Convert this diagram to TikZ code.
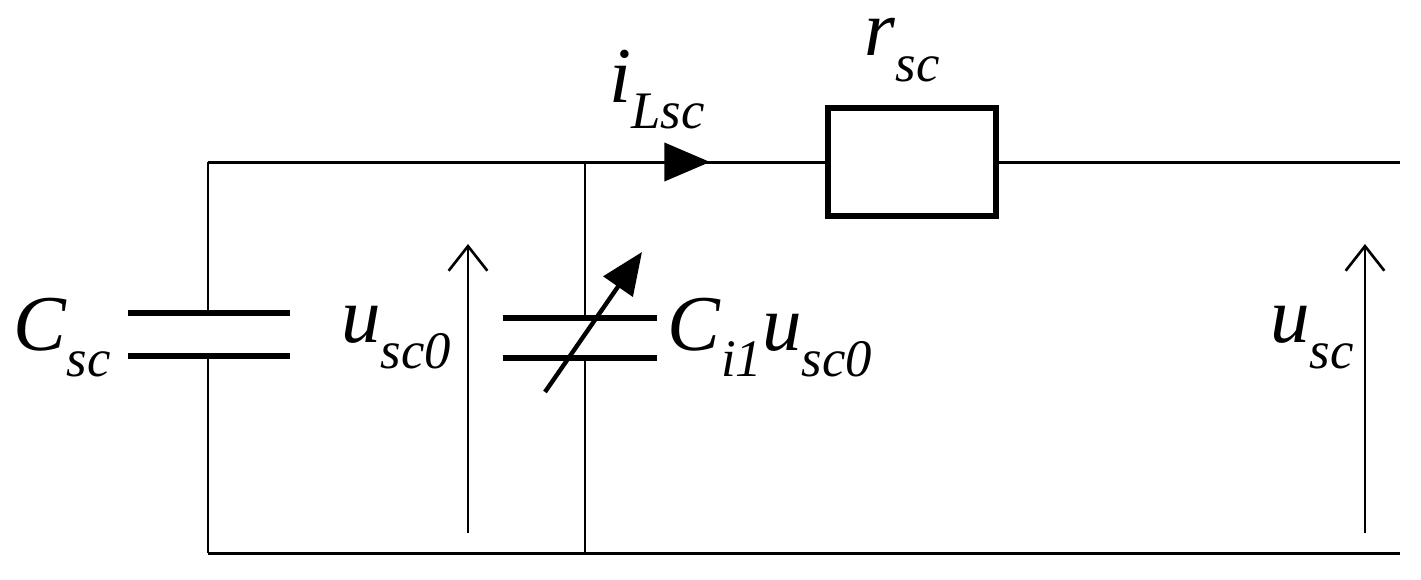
\documentclass[tikz,border=0pt]{standalone}
\usepackage{fontspec}
\setmainfont{Liberation Serif}
\usetikzlibrary{arrows.meta}
\newcommand{\lbl}[2]{\textit{#1}\raisebox{-0.33em}{\fontsize{30}{31}\selectfont\textit{#2}}}
\begin{document}
\begin{tikzpicture}[x=0.02cm,y=-0.02cm,
  wire/.style={line width=1.7pt},
  plate/.style={line width=3.6pt},
  lab/.style={font=\fontsize{45}{47}\selectfont, inner sep=0pt},
  varrow/.style={line width=1.5pt,-{Straight Barb[length=14pt,width=22pt,line width=1.5pt]}}]
\useasboundingbox (0,0) rectangle (1421,579);
\coordinate (tl) at (208,162); \coordinate (bl) at (208,553);
\coordinate (tr) at (1400,162); \coordinate (br) at (1400,553);
\coordinate (tm) at (585,162); \coordinate (bm) at (585,553);
\draw[line width=3.2pt] (828,108) rectangle (996,216);
\coordinate (Rl) at (828,162); \coordinate (Rr) at (996,162);
\draw[wire] (bl) -- (br);
\draw[wire] (Rr) -- (tr);
\draw[wire] (tl) -- (Rl);
\coordinate (c1t) at (208,313); \coordinate (c1b) at (208,356);
\draw[wire] (tl) -- (c1t); \draw[wire] (c1b) -- (bl);
\draw[plate] (128,313) -- (290,313); \draw[plate] (128,356) -- (290,356);
\coordinate (c2t) at (585,318); \coordinate (c2b) at (585,358);
\draw[wire] (tm) -- (c2t); \draw[wire] (c2b) -- (bm);
\draw[plate] (503,318) -- (657,318); \draw[plate] (503,358) -- (657,358);
\coordinate (va) at (545,392); \coordinate (vb) at (642,252);
\draw[line width=2.5pt,-{Triangle[length=24pt,width=20pt]}] (va) -- (vb);
\coordinate (ia) at (660,162); \coordinate (ib) at (710,162);
\draw[line width=1pt,-{Triangle[length=26pt,width=22pt]}] (ia) -- (ib);
\coordinate (u1a) at (468,533); \coordinate (u1b) at (468,244);
\draw[varrow] (u1a) -- (u1b);
\coordinate (u2a) at (1365,533); \coordinate (u2b) at (1365,244);
\draw[varrow] (u2a) -- (u2b);
\node[lab] (lC) at (62,338) {\lbl{C}{sc}};
\node[lab] (lu0) at (396,338) {\lbl{u}{sc0}};
\node[lab] (lCi) at (770,338) {\lbl{C}{i1}\lbl{u}{sc0}};
\node[lab] (lu) at (1312,338) {\lbl{u}{sc}};
\node[lab] (li) at (657,90) {\lbl{i}{Lsc}};
\node[lab] (lr) at (902,50) {\lbl{r}{sc}};
\end{tikzpicture}
\end{document}
